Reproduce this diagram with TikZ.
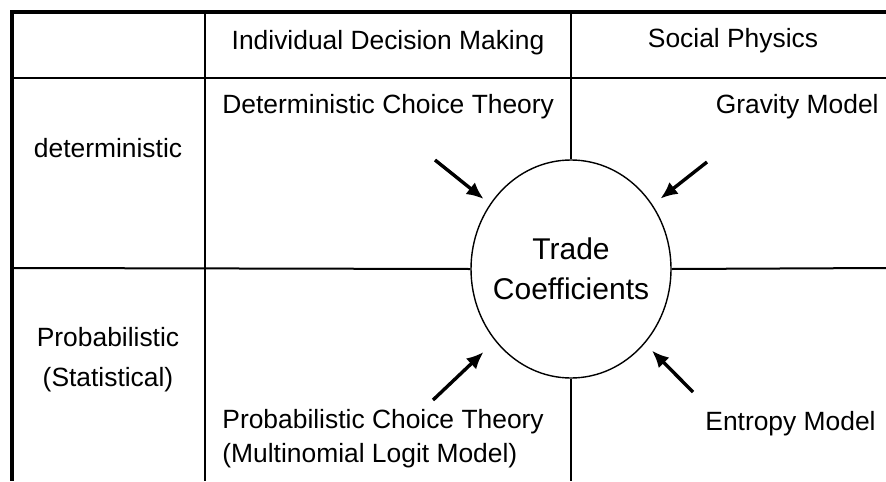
\documentclass[tikz,border=0pt]{standalone}
\usepackage{fontspec}
\setmainfont{Liberation Sans}
\usetikzlibrary{arrows.meta,shapes.geometric}

\begin{document}
\begin{tikzpicture}[x=0.5pt, y=-0.5pt,
    lbl/.style={font=\fontsize{13.2}{15}\selectfont, inner sep=0pt},
    grid/.style={line width=1pt},
    feed/.style={-{Latex[length=8.5pt,width=7.5pt]}, line width=1.7pt}]
    \useasboundingbox (0,0) rectangle (886,481);
    % frame and table lines
    \draw [line width=2pt] (886,12) -- (12,12) -- (12,481);
    \draw [grid] (12,78) -- (886,78);
    \draw [grid] (205,12) -- (205,481);
    \node (trade) [ellipse, draw, line width=0.7pt, minimum width=100pt, minimum height=109pt,
        inner xsep=-5pt, inner ysep=0pt,
        align=center, font=\fontsize{15}{20}\selectfont] at (571,269) {Trade\\Coefficients};
    \draw [grid] (12,268) -- (trade.west);
    \draw [grid] (trade.east) -- (886,268);
    \draw [grid] (571,12) -- (trade.north);
    \draw [grid] (trade.south) -- (571,481);
    % headings
    \node (hdl) [lbl, anchor=base] at (388,50) {Individual Decision Making};
    \node (hdr) [lbl, anchor=base] at (733,48) {Social Physics};
    \node (det) [lbl, anchor=base] at (108,157) {deterministic};
    \node (prob) [lbl, anchor=base] at (108,346) {Probabilistic};
    \node (stat) [lbl, anchor=base] at (108,386) {(Statistical)};
    % models
    \node (dct) [lbl, anchor=base west] at (222,113) {Deterministic Choice Theory};
    \node (grav) [lbl, anchor=base east] at (879,113) {Gravity Model};
    \node (pct) [lbl, anchor=base west] at (222,428) {Probabilistic Choice Theory};
    \node (mnl) [lbl, anchor=base west] at (222,462) {(Multinomial Logit Model)};
    \node (ent) [lbl, anchor=base east] at (876,430) {Entropy Model};
    % arrows into the circle
    \coordinate (dcfrom) at (435,160);
    \coordinate (gmfrom) at (707,162);
    \coordinate (pcfrom) at (433,400);
    \coordinate (emfrom) at (693,392);
    \draw [feed, shorten >=4pt] (dcfrom) -- (trade);
    \draw [feed, shorten >=5pt] (gmfrom) -- (trade);
    \draw [feed, shorten >=8pt] (pcfrom) -- (trade);
    \draw [feed, shorten >=5pt] (emfrom) -- (trade);
\end{tikzpicture}
\end{document}
